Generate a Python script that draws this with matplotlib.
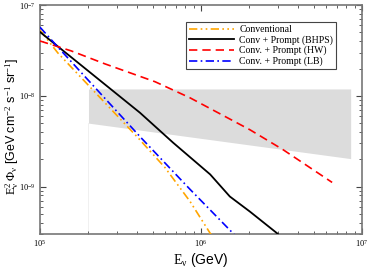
import numpy as np
import matplotlib
matplotlib.use("Agg")
import matplotlib.pyplot as plt
from matplotlib.ticker import FixedLocator, NullFormatter

plt.rcParams['font.family'] = 'Liberation Serif'
plt.rcParams['mathtext.fontset'] = 'custom'
plt.rcParams['mathtext.rm'] = 'Liberation Serif'
plt.rcParams['mathtext.it'] = 'Liberation Serif'
plt.rcParams['mathtext.sf'] = 'Liberation Sans'

# Data (E in GeV, E^2 Phi in GeV cm^-2 s^-1 sr^-1)
conv_E = [1e5, 1.29e5, 4.06e5, 5.97e5, 8.55e5, 1.14e6, 1.25e6]
conv_F = [5.3e-8, 2.97e-8, 3.45e-9, 1.62e-9, 6.84e-10, 3.05e-10, 2.5e-10]

bhps_E = [1e5, 4.18e5, 6.7e5, 1.14e6, 1.51e6, 2.01e6, 2.97e6, 3.3e6]
bhps_F = [5.05e-8, 6.5e-9, 3.05e-9, 1.36e-9, 7.76e-10, 5.3e-10, 3.05e-10, 2.6e-10]

hw_E = [1e5, 1.56e5, 2.53e5, 5.18e5, 8.55e5, 2.01e6, 3.23e6, 6.52e6]
hw_F = [4.02e-8, 3.13e-8, 2.25e-8, 1.43e-8, 9.5e-9, 4.23e-9, 2.55e-9, 1.11e-9]

lb_E = [1e5, 1.29e5, 4.24e5, 8.55e5, 1.58e6, 1.75e6]
lb_F = [5.7e-8, 3.45e-8, 3.45e-9, 9.3e-10, 3.05e-10, 2.5e-10]

band_E = [2e5, 8.5e6]
band_hi = [1.19e-8, 1.19e-8]
band_lo = [5.0e-9, 2.03e-9]

x_major = [1e5, 1e6, 1e7]
y_major = [1e-9, 1e-8, 1e-7]

fig = plt.figure(figsize=(3.74, 2.68), dpi=100)
ax = fig.add_axes([0.107, 0.127, 0.861, 0.854])

ax.fill_between(band_E, band_lo, band_hi, color='#dcdcdc', lw=0, zorder=1)
ax.plot([band_E[0], band_E[0]], [3e-10, band_lo[0]], color='#eeeeee', lw=0.6, zorder=1)

ax.plot(conv_E, conv_F, color='orange', lw=1.2, dashes=(5, 2, 1, 2, 1, 2),
        label='Conventional', zorder=3)
ax.plot(bhps_E, bhps_F, color='black', lw=1.3, label='Conv + Prompt (BHPS)', zorder=3)
ax.plot(hw_E, hw_F, color='red', lw=1.2, dashes=(5, 3),
        label='Conv. + Prompt (HW)', zorder=3)
ax.plot(lb_E, lb_F, color='blue', lw=1.2, dashes=(5, 2, 1, 2),
        label='Conv. + Prompt (LB)', zorder=3)

ax.set_xscale('log')
ax.set_yscale('log')
ax.set_xlim(1e5, 1e7)
ax.set_ylim(3e-10, 1e-7)

ax.set_xticks(x_major)
ax.set_yticks(y_major)
x_minor = [m * d for d in x_major[:-1] for m in range(2, 10)]
y_minor = [m * d for d in [1e-10] + y_major[:-1] for m in range(2, 10)]
ax.xaxis.set_minor_locator(FixedLocator(x_minor))
ax.yaxis.set_minor_locator(FixedLocator([v for v in y_minor if v >= 3e-10]))
ax.xaxis.set_minor_formatter(NullFormatter())
ax.yaxis.set_minor_formatter(NullFormatter())

ax.tick_params(which='both', direction='in', top=True, right=True,
               color='#444444', labelsize=6, pad=3)
ax.tick_params(which='major', length=4.5, width=0.8)
ax.tick_params(which='minor', length=2.5, width=0.6)
for s in ax.spines.values():
    s.set_color('#777777')
    s.set_linewidth(1.2)

ax.set_xlabel(r'$\mathrm{E}_{\nu}$ (GeV)', family='Liberation Sans', fontsize=10, labelpad=1)
ax.set_ylabel(r'$\mathrm{E}^{2}_{\nu}\,\Phi_{\nu}$ [GeV cm$^{-2}$ s$^{-1}$ sr$^{-1}$]',
              family='Liberation Sans', fontsize=9)
ax.yaxis.set_label_coords(-0.06, 0.47)

leg = ax.legend(loc='upper left', bbox_to_anchor=(0.453, 0.926), fontsize=7,
                handlelength=4.6, labelspacing=0.12, borderpad=0.3,
                borderaxespad=0, handletextpad=0.6, fancybox=False, framealpha=1)
leg.get_frame().set_edgecolor('#444444')
leg.get_frame().set_linewidth(0.8)

fig.savefig('out.png', dpi=100)
